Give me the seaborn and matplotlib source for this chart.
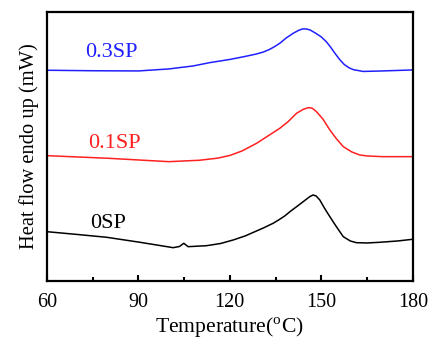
import matplotlib
matplotlib.use("Agg")
import matplotlib.pyplot as plt
import seaborn as sns
import pandas as pd
from matplotlib import ticker

# DSC curves (temperature in degC, heat flow in arbitrary units)
temp_0sp = [60, 70, 79.6, 90.5, 97, 101.4, 103.5, 104.9, 106.3, 112.4, 117, 121.1, 125, 128,
            131, 134.2, 136, 138, 140, 141.9, 143.5, 145, 146.3, 147.3, 148.3, 149.5, 151,
            152.8, 155, 157.2, 159.5, 161.5, 165, 169.2, 175, 180]
flow_0sp = [49.3, 46.5, 43.7, 38.7, 35.5, 33.3, 34.5, 37.7, 34.3, 35.3, 37.5, 41, 45, 49,
            53, 57.7, 61, 65, 70, 74.3, 78, 81.5, 84.5, 86, 85, 81, 73,
            64.3, 54, 44.3, 40, 38.3, 38, 38.7, 40, 41.7]

temp_01sp = [60, 80, 100, 110, 116, 120, 124, 128.8, 132, 136.4, 139, 141.9, 144, 145.7, 147,
             148.4, 150.5, 152.8, 155, 157.2, 160, 162.6, 165, 170, 180]
flow_01sp = [125.3, 122.7, 119.3, 120.7, 122.8, 125.5, 130, 137.7, 144, 152.7, 159, 167.7,
             171.5, 173.3, 172.8, 169.3, 162, 151, 142, 134.3, 129, 126, 125, 124.3, 124.3]

temp_03sp = [60, 75, 90, 100, 108, 113.4, 120, 125, 128.5, 130.9, 133, 134.5, 136.4, 138.5,
             140.8, 142.5, 143.8, 145, 146.3, 148, 150, 151.7, 153, 154.5, 156, 157.5, 159,
             160.5, 163.7, 170, 180]
flow_03sp = [210.7, 210.2, 210, 212, 215, 218.3, 221.5, 224.5, 226.8, 228.8, 231.5, 234,
             237.7, 243, 247.7, 250.5, 252, 252, 251, 248, 244, 239, 234, 227.5, 221.5, 216.5,
             213.3, 211.3, 209.5, 210, 211]

samples = ["0SP", "0.1SP", "0.3SP"]
colors = ["black", "#ff2020", "#2020ff"]

df = pd.concat([
    pd.DataFrame({"T": t, "flow": f, "sample": s})
    for t, f, s in zip([temp_0sp, temp_01sp, temp_03sp],
                       [flow_0sp, flow_01sp, flow_03sp], samples)
])

plt.rcParams["font.family"] = ["Liberation Serif", "DejaVu Serif"]
plt.rcParams["mathtext.fontset"] = "custom"
plt.rcParams["mathtext.rm"] = "Liberation Serif"

fig = plt.figure(figsize=(4.3, 3.41), dpi=100)
ax = fig.add_axes([0.109, 0.176, 0.851, 0.789])

sns.lineplot(data=df, x="T", y="flow", hue="sample", palette=dict(zip(samples, colors)),
             sort=False, estimator=None, linewidth=1.1, legend=False, ax=ax)

ax.set_xlim(60, 180)
ax.set_ylim(0, 269)
ax.xaxis.set_major_locator(ticker.MultipleLocator(30))
ax.xaxis.set_minor_locator(ticker.MultipleLocator(15))
ax.set_yticks([])
ax.tick_params(axis="x", which="major", direction="in", length=4, width=1.5,
               labelsize=14.5, pad=9)
ax.tick_params(axis="x", which="minor", direction="in", length=3, width=1.5)
for sp in ax.spines.values():
    sp.set_linewidth(1.6)

ax.set_xlabel(r"Temperature($^{\mathrm{o}}$C)", fontsize=15.6, labelpad=2)
ax.set_ylabel("Heat flow endo up (mW)", fontsize=14.8, labelpad=6)

label_pos = {"0.3SP": (81.2, 228), "0.1SP": (82, 137), "0SP": (80, 57)}
for s, c in zip(samples, colors):
    x, y = label_pos[s]
    ax.text(x, y, s, color=c, fontsize=16, ha="center", va="center")

fig.savefig("out.png", dpi=100)
plt.close(fig)
